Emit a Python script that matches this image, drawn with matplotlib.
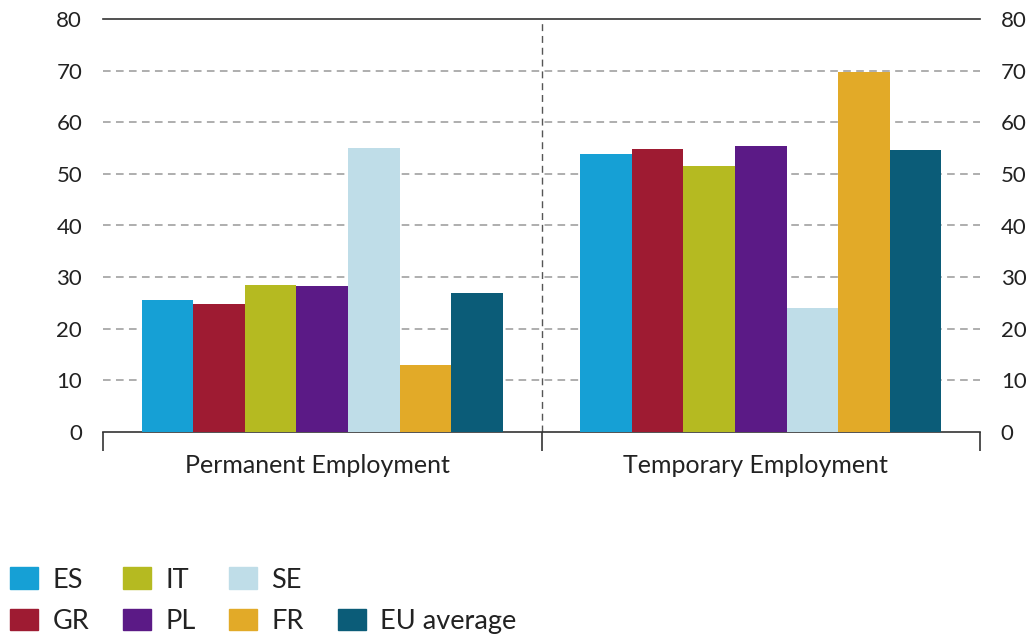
import matplotlib
matplotlib.use("Agg")
import matplotlib.pyplot as plt
from matplotlib.patches import Patch
import numpy as np

plt.rcParams["font.family"] = ["Lato", "DejaVu Sans"]

groups = ["Permanent Employment", "Temporary Employment"]
countries = ["ES", "GR", "IT", "PL", "SE", "FR", "EU average"]
colors = ["#16A0D5", "#9E1B32", "#B5BA21", "#5B1A86", "#BFDDE8", "#E2AA28", "#0B5C78"]

# values per country: (permanent, temporary)
es = [25.6, 53.9]
gr = [24.7, 54.9]
it = [28.5, 51.5]
pl = [28.2, 55.4]
se = [55.0, 24.0]
fr = [13.0, 69.8]
eu = [26.9, 54.6]
series = [es, gr, it, pl, se, fr, eu]

fig = plt.figure(figsize=(10.35, 6.4), dpi=100)
ax = fig.add_axes([103 / 1035, 1 - 432 / 640, 877 / 1035, 413 / 640])

centers = np.array([0.5, 1.5])
width = 0.1177
offsets = (np.arange(len(series)) - (len(series) - 1) / 2) * width
for vals, off, c in zip(series, offsets, colors):
    ax.bar(centers + off, vals, width, color=c, zorder=3)

ax.set_xlim(0, 2)
ax.set_ylim(0, 80)
ax.set_yticks(range(0, 81, 10))
for y in range(10, 80, 10):
    ax.axhline(y, color="#999999", lw=1.1, ls=(0, (5, 3.5)), zorder=1)
ax.axvline(1, color="#555555", lw=1.0, ls=(0, (5, 3.5)), zorder=1)

for s in ["left", "right"]:
    ax.spines[s].set_visible(False)
for s in ["top", "bottom"]:
    ax.spines[s].set_color("#333333")
    ax.spines[s].set_linewidth(1.2)

ax.tick_params(axis="y", length=0, labelsize=16, labelright=True, pad=15,
               colors="#222222")
ax.set_xticks([0, 1, 2])
ax.set_xticklabels(["", "", ""])
ax.tick_params(axis="x", which="major", length=14, width=1.2, color="#333333")
ax.set_xticks(centers - 0.012, groups, minor=True)
ax.tick_params(axis="x", which="minor", length=0, labelsize=18, pad=16,
               labelcolor="#222222")

handles = [Patch(color=c) for c in colors[:6]]
handles.append(Patch(color="none"))
handles.append(Patch(color=colors[6]))
labels = countries[:6] + [""] + [countries[6]]
fig.legend(handles, labels, ncol=4, loc="lower left",
           bbox_to_anchor=(10 / 1035, 6 / 640), borderaxespad=0, borderpad=0,
           frameon=False, fontsize=19.5,
           handlelength=1.04, handleheight=0.85, handletextpad=0.52,
           columnspacing=1.25, labelspacing=0.6, labelcolor="#222222")

fig.savefig("out.png", dpi=100)
